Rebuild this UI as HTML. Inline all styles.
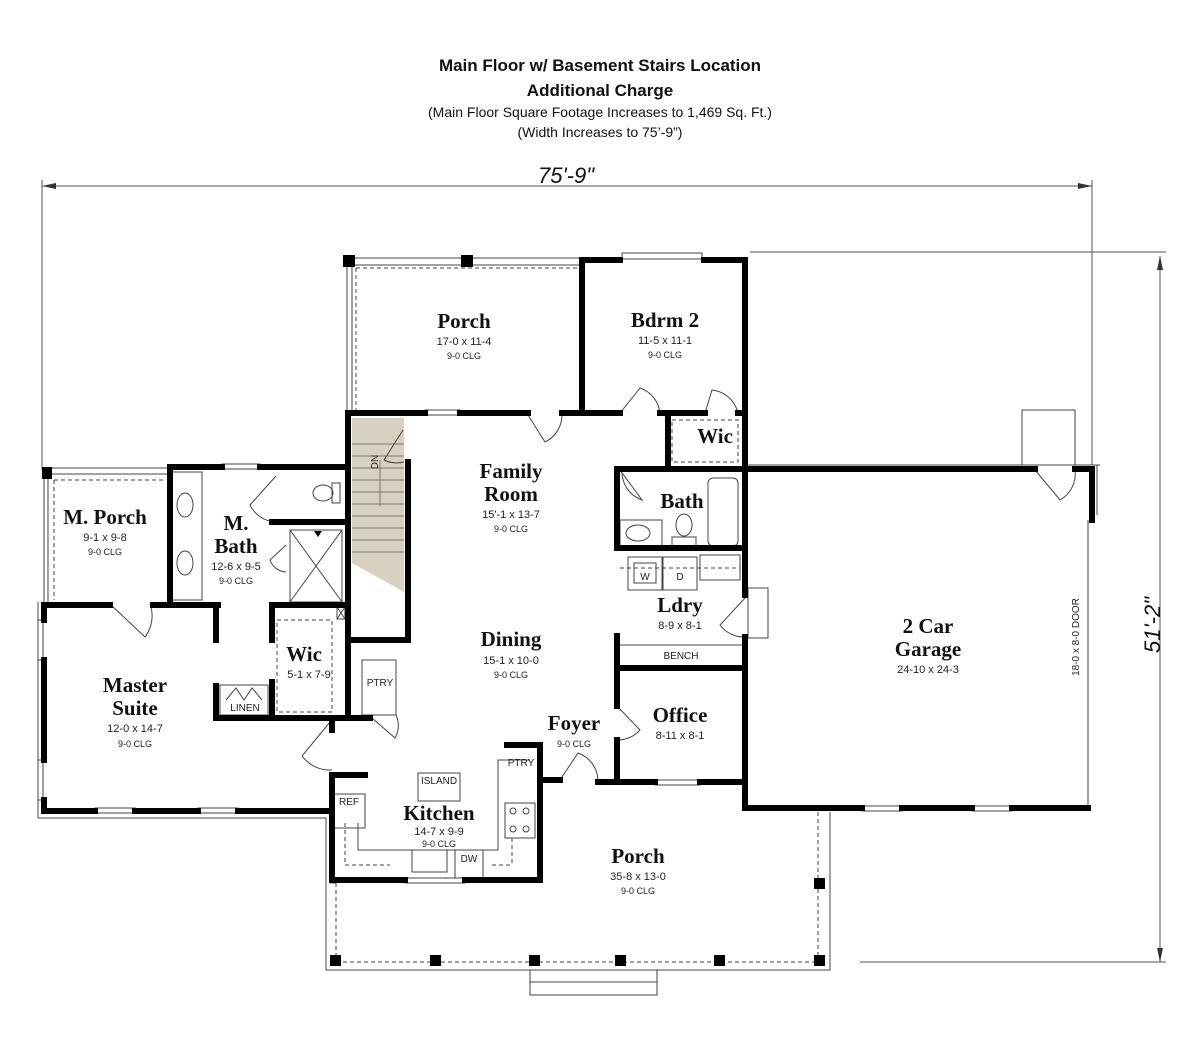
<!DOCTYPE html>
<html><head><meta charset="utf-8"><style>
html,body{margin:0;padding:0;background:#fff}
svg{display:block}
.t{font-family:"Liberation Sans",sans-serif;text-anchor:middle;fill:#111}
.r{font-family:"Liberation Serif",serif;font-weight:bold;text-anchor:middle;fill:#111;font-size:21px}
.d{font-family:"Liberation Sans",sans-serif;text-anchor:middle;fill:#222;font-size:11px}
.c{font-family:"Liberation Sans",sans-serif;text-anchor:middle;fill:#222;font-size:9px}
.s{font-family:"Liberation Sans",sans-serif;text-anchor:middle;fill:#222;font-size:10px}
</style></head><body>
<svg width="1200" height="1064" viewBox="0 0 1200 1064" xmlns="http://www.w3.org/2000/svg">
<text class="t" x="600" y="71" font-size="17" font-weight="bold">Main Floor w/ Basement Stairs Location</text>
<text class="t" x="600" y="96" font-size="17" font-weight="bold">Additional Charge</text>
<text class="t" x="600" y="117" font-size="14">(Main Floor Square Footage Increases to 1,469 Sq. Ft.)</text>
<text class="t" x="600" y="137" font-size="14">(Width Increases to 75’-9”)</text>

<g stroke="#555" stroke-width="1" fill="none">
<line x1="42" y1="186" x2="1092" y2="186"/>
<line x1="42" y1="180" x2="42" y2="470"/>
<line x1="1092" y1="180" x2="1092" y2="465"/>
<line x1="1160" y1="256" x2="1160" y2="962"/>
<line x1="750" y1="252" x2="1166" y2="252"/>
<line x1="860" y1="962" x2="1166" y2="962"/>
</g>
<polygon points="42,186 56,183 56,189" fill="#333"/>
<polygon points="1092,186 1078,183 1078,189" fill="#333"/>
<polygon points="1160,256 1157,270 1163,270" fill="#333"/>
<polygon points="1160,962 1157,948 1163,948" fill="#333"/>
<text class="t" x="566" y="183" font-size="22" font-style="italic" fill="#333">75'-9"</text>
<text class="t" transform="translate(1160,625) rotate(-90)" font-size="22" font-style="italic" fill="#333">51'-2"</text>

<polygon points="352,418 404,418 404,592 352,563" fill="#d8d0c0"/>
<g stroke="#777" stroke-width="1">
<line x1="352" y1="444" x2="404" y2="444"/><line x1="352" y1="456" x2="404" y2="456"/>
<line x1="352" y1="468" x2="404" y2="468"/><line x1="352" y1="480" x2="404" y2="480"/>
<line x1="352" y1="492" x2="404" y2="492"/><line x1="352" y1="504" x2="404" y2="504"/>
<line x1="352" y1="516" x2="404" y2="516"/><line x1="352" y1="528" x2="404" y2="528"/>
<line x1="352" y1="540" x2="404" y2="540"/><line x1="352" y1="552" x2="404" y2="552"/>
<line x1="380" y1="460" x2="380" y2="506"/>
</g>
<text class="s" transform="translate(378,462) rotate(-90)">DN</text>

<g stroke="#444" stroke-width="1" fill="none">
<line x1="350" y1="258" x2="582" y2="258"/><line x1="350" y1="265" x2="582" y2="265"/>
<line x1="347" y1="262" x2="347" y2="413"/><line x1="352" y1="262" x2="352" y2="413"/>
<line x1="356" y1="268" x2="578" y2="268" stroke-dasharray="4,3"/>
<line x1="356" y1="268" x2="356" y2="410" stroke-dasharray="4,3"/>
<line x1="42" y1="468" x2="168" y2="468"/><line x1="42" y1="474" x2="168" y2="474"/>
<line x1="44" y1="474" x2="44" y2="602"/><line x1="48" y1="474" x2="48" y2="602"/>
<line x1="54" y1="480" x2="166" y2="480" stroke-dasharray="4,3"/>
<line x1="54" y1="480" x2="54" y2="600" stroke-dasharray="4,3"/>
<line x1="38" y1="602" x2="38" y2="818"/><line x1="38" y1="818" x2="326" y2="818"/>
<polyline points="326,818 326,970 830,970 830,812"/>
<line x1="336" y1="883" x2="336" y2="965" stroke-dasharray="4,3"/>
<line x1="818" y1="812" x2="818" y2="965" stroke-dasharray="4,3"/>
<line x1="336" y1="962" x2="818" y2="962" stroke-dasharray="4,3"/>
<line x1="330" y1="883" x2="336" y2="883"/>
<rect x="530" y="970" width="127" height="12"/><rect x="530" y="982" width="127" height="13"/>
<rect x="425" y="410" width="35" height="5"/>
<rect x="622" y="253" width="80" height="6"/>
<rect x="222" y="464" width="38" height="5"/>
<rect x="405" y="878" width="60" height="5"/>
<rect x="655" y="780" width="45" height="5"/>
<rect x="95" y="808" width="40" height="5"/><rect x="198" y="808" width="40" height="5"/>
<rect x="38" y="620" width="5" height="40"/><rect x="38" y="760" width="5" height="40"/>
<rect x="862" y="806" width="40" height="5"/><rect x="972" y="806" width="40" height="5"/>
<rect x="172" y="472" width="30" height="128"/>
<ellipse cx="185" cy="505" rx="8" ry="12"/><ellipse cx="185" cy="563" rx="8" ry="12"/>
<ellipse cx="323" cy="493" rx="10" ry="8"/><rect x="332" y="483" width="8" height="20"/>
<rect x="290" y="530" width="52" height="72"/>
<line x1="290" y1="530" x2="342" y2="602"/><line x1="342" y1="530" x2="290" y2="602"/>
<rect x="337" y="607" width="8" height="12"/>
<line x1="337" y1="607" x2="345" y2="619"/><line x1="345" y1="607" x2="337" y2="619"/>
<rect x="220" y="685" width="48" height="30"/>
<rect x="277" y="620" width="55" height="92" stroke-dasharray="4,3"/>
<rect x="672" y="420" width="66" height="42" stroke-dasharray="4,3"/>
<rect x="708" y="478" width="30" height="68" rx="5"/>
<rect x="620" y="520" width="42" height="26"/><ellipse cx="638" cy="533" rx="12" ry="8"/>
<ellipse cx="684" cy="525" rx="8" ry="11"/><rect x="672" y="537" width="24" height="10"/>
<rect x="628" y="557" width="34" height="33"/><rect x="634" y="563" width="22" height="20"/>
<rect x="663" y="557" width="34" height="33"/>
<rect x="700" y="555" width="40" height="25"/>
<line x1="620" y1="568" x2="740" y2="568" stroke-dasharray="4,3"/>
<rect x="748" y="588" width="20" height="50"/>
<line x1="617" y1="645" x2="745" y2="645"/>
<line x1="1088" y1="520" x2="1088" y2="808"/>
<rect x="1022" y="410" width="53" height="55"/>
<line x1="745" y1="465" x2="1100" y2="465"/>
<line x1="1097" y1="465" x2="1097" y2="515"/>
<rect x="362" y="660" width="34" height="55"/>
<path d="M372,718 L395,738 A25,25 0 0 0 396,715"/>
<rect x="418" y="773" width="42" height="28"/>
<rect x="333" y="794" width="32" height="34"/>
<polyline points="358,823 358,850 498,850 498,760 530,760"/>
<rect x="505" y="803" width="30" height="35"/>
<circle cx="513" cy="811" r="3"/><circle cx="526" cy="811" r="3"/><circle cx="513" cy="829" r="3"/><circle cx="526" cy="829" r="3"/>
<rect x="412" y="850" width="35" height="22"/>
<rect x="455" y="850" width="28" height="28"/>
<line x1="345" y1="823" x2="345" y2="865" stroke-dasharray="4,3"/>
<line x1="345" y1="865" x2="390" y2="865" stroke-dasharray="4,3"/>
<line x1="492" y1="865" x2="512" y2="865" stroke-dasharray="4,3"/>
<line x1="512" y1="838" x2="512" y2="865" stroke-dasharray="4,3"/>
<path d="M528,415 L545,442 A30,30 0 0 0 562,415"/>
<path d="M620,413 L640,388 A30,30 0 0 1 660,413"/>
<path d="M705,413 L712,390 A30,30 0 0 1 738,413"/>
<path d="M620,470 L642,500 A30,30 0 0 1 622,470"/>
<path d="M110,604 L145,637 A35,35 0 0 0 150,604"/>
<path d="M276,476 L250,505 A30,30 0 0 0 276,522"/>
<path d="M286,545 L270,560 A18,18 0 0 0 286,572"/>
<path d="M745,598 L720,625 A30,30 0 0 0 745,637"/>
<path d="M617,706 L640,730 A30,30 0 0 1 617,740"/>
<path d="M560,780 L578,753 A30,30 0 0 1 598,780"/>
<path d="M330,722 L302,756 A35,35 0 0 0 332,770"/>
<path d="M1035,470 L1060,500 A30,30 0 0 0 1075,470"/>
<path d="M403,430 L384,460 A30,30 0 0 0 404,462"/>
<path d="M226,700 L236,688 L244,700 L252,688 L262,700"/>
</g>

<g stroke="#000" stroke-width="6" fill="none" stroke-linecap="square">
<line x1="348" y1="413" x2="425" y2="413"/><line x1="460" y1="413" x2="528" y2="413"/><line x1="562" y1="413" x2="620" y2="413"/>
<line x1="660" y1="413" x2="705" y2="413"/><line x1="738" y1="413" x2="745" y2="413"/>
<line x1="582" y1="260" x2="582" y2="413"/>
<line x1="582" y1="260" x2="620" y2="260"/><line x1="704" y1="260" x2="745" y2="260"/>
<line x1="745" y1="260" x2="745" y2="595"/><line x1="745" y1="637" x2="745" y2="808"/>
<line x1="668" y1="413" x2="668" y2="467"/>
<line x1="617" y1="469" x2="1035" y2="469"/><line x1="1075" y1="469" x2="1092" y2="469"/>
<line x1="1092" y1="469" x2="1092" y2="520"/>
<line x1="745" y1="808" x2="862" y2="808"/><line x1="902" y1="808" x2="972" y2="808"/><line x1="1012" y1="808" x2="1088" y2="808"/>
<line x1="617" y1="469" x2="617" y2="548"/><line x1="617" y1="548" x2="745" y2="548"/>
<line x1="617" y1="636" x2="617" y2="706"/><line x1="617" y1="740" x2="617" y2="782"/>
<line x1="617" y1="668" x2="745" y2="668"/>
<line x1="598" y1="782" x2="655" y2="782"/><line x1="700" y1="782" x2="745" y2="782"/>
<line x1="540" y1="780" x2="560" y2="780"/>
<line x1="540" y1="745" x2="540" y2="880"/><line x1="507" y1="745" x2="540" y2="745"/>
<line x1="332" y1="880" x2="405" y2="880"/><line x1="465" y1="880" x2="540" y2="880"/>
<line x1="332" y1="775" x2="332" y2="880"/><line x1="332" y1="775" x2="365" y2="775"/>
<line x1="348" y1="413" x2="348" y2="640"/><line x1="348" y1="640" x2="408" y2="640"/>
<line x1="408" y1="462" x2="408" y2="640"/>
<line x1="348" y1="718" x2="370" y2="718"/>
<line x1="170" y1="467" x2="222" y2="467"/><line x1="260" y1="467" x2="348" y2="467"/>
<line x1="170" y1="467" x2="170" y2="602"/>
<line x1="272" y1="522" x2="348" y2="522"/>
<line x1="46" y1="605" x2="110" y2="605"/><line x1="153" y1="605" x2="218" y2="605"/>
<line x1="216" y1="605" x2="216" y2="640"/>
<line x1="216" y1="686" x2="216" y2="718"/><line x1="216" y1="718" x2="348" y2="718"/>
<line x1="272" y1="605" x2="348" y2="605"/><line x1="272" y1="605" x2="272" y2="640"/>
<line x1="272" y1="682" x2="272" y2="718"/>
<line x1="348" y1="605" x2="348" y2="718"/>
<line x1="44" y1="605" x2="44" y2="620"/><line x1="44" y1="660" x2="44" y2="760"/><line x1="44" y1="800" x2="44" y2="811"/>
<line x1="44" y1="811" x2="95" y2="811"/><line x1="135" y1="811" x2="198" y2="811"/><line x1="238" y1="811" x2="332" y2="811"/>
<line x1="332" y1="722" x2="332" y2="730"/>
</g>
<g fill="#000">
<rect x="343" y="255" width="12" height="12"/><rect x="461" y="255" width="12" height="12"/>
<rect x="42" y="467" width="10" height="12"/>
<rect x="330" y="955" width="11" height="11"/><rect x="430" y="955" width="11" height="11"/>
<rect x="529" y="955" width="11" height="11"/><rect x="615" y="955" width="11" height="11"/>
<rect x="714" y="955" width="11" height="11"/><rect x="814" y="955" width="11" height="11"/>
<rect x="814" y="878" width="11" height="11"/>
<polygon points="318,537 314,531 322,531"/>
</g>

<text class="r" x="464" y="328">Porch</text><text class="d" x="464" y="345">17-0 x 11-4</text><text class="c" x="464" y="359">9-0 CLG</text>
<text class="r" x="665" y="327">Bdrm 2</text><text class="d" x="665" y="344">11-5 x 11-1</text><text class="c" x="665" y="358">9-0 CLG</text>
<text class="r" x="715" y="443">Wic</text>
<text class="r" x="511" y="478">Family</text><text class="r" x="511" y="501">Room</text><text class="d" x="511" y="518">15'-1 x 13-7</text><text class="c" x="511" y="532">9-0 CLG</text>
<text class="r" x="682" y="508">Bath</text>
<text class="r" x="105" y="524">M. Porch</text><text class="d" x="105" y="541">9-1 x 9-8</text><text class="c" x="105" y="555">9-0 CLG</text>
<text class="r" x="236" y="530">M.</text><text class="r" x="236" y="553">Bath</text><text class="d" x="236" y="570">12-6 x 9-5</text><text class="c" x="236" y="584">9-0 CLG</text>
<text class="r" x="304" y="661">Wic</text><text class="d" x="309" y="678">5-1 x 7-9</text>
<text class="r" x="511" y="646">Dining</text><text class="d" x="511" y="664">15-1 x 10-0</text><text class="c" x="511" y="678">9-0 CLG</text>
<text class="r" x="680" y="612">Ldry</text><text class="d" x="680" y="629">8-9 x 8-1</text>
<text class="s" x="681" y="659">BENCH</text>
<text class="s" x="645" y="580">W</text><text class="s" x="680" y="580">D</text>
<text class="r" x="135" y="692">Master</text><text class="r" x="135" y="715">Suite</text><text class="d" x="135" y="732">12-0 x 14-7</text><text class="c" x="135" y="747">9-0 CLG</text>
<text class="s" x="245" y="711">LINEN</text>
<text class="s" x="380" y="686">PTRY</text>
<text class="r" x="574" y="730">Foyer</text><text class="c" x="574" y="747">9-0 CLG</text>
<text class="r" x="680" y="722">Office</text><text class="d" x="680" y="739">8-11 x 8-1</text>
<text class="s" x="521" y="766">PTRY</text>
<text class="s" x="439" y="784">ISLAND</text>
<text class="s" x="349" y="805">REF</text>
<text class="r" x="439" y="820">Kitchen</text><text class="d" x="439" y="835">14-7 x 9-9</text><text class="c" x="439" y="847">9-0 CLG</text>
<text class="s" x="469" y="862">DW</text>
<text class="r" x="638" y="863">Porch</text><text class="d" x="638" y="880">35-8 x 13-0</text><text class="c" x="638" y="894">9-0 CLG</text>
<text class="r" x="928" y="633">2 Car</text><text class="r" x="928" y="656">Garage</text><text class="d" x="928" y="673">24-10 x 24-3</text>
<text class="s" transform="translate(1079,637) rotate(-90)">18-0 x 8-0 DOOR</text>
</svg>
</body></html>
